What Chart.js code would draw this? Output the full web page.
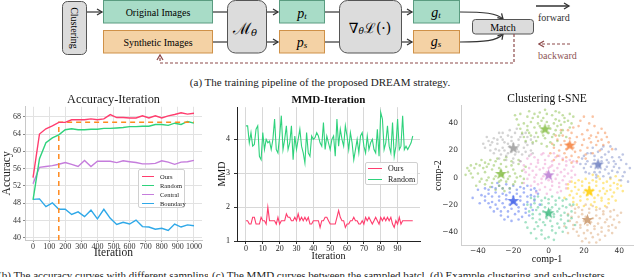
<!DOCTYPE html>
<html>
<head>
<meta charset="utf-8">
<script src="https://cdn.jsdelivr.net/npm/chart.js@4.4.0/dist/chart.umd.min.js"></script>
<style>
html, body { margin: 0; padding: 0; background: #fff; width: 640px; height: 277px; overflow: hidden; }
body { position: relative; font-family: "Liberation Serif", serif; color: #222; }
.abs { position: absolute; }
.cap { font-size: 11px; line-height: 14px; white-space: nowrap; overflow: hidden; }
.legend { position: absolute; background: rgba(255,255,255,0.9); border: 1px solid #d0d0d0; border-radius: 2px; box-sizing: border-box; }
.legend .row { position: absolute; left: 0; height: 9px; width: 100%; }
.legend .sw { position: absolute; top: 4px; height: 0; border-top: 1.5px solid; }
.legend .tx { position: absolute; top: 0; line-height: 9px; white-space: nowrap; }
</style>
</head>
<body>

<svg class="abs" style="left:0;top:0" width="640" height="72" font-family="Liberation Serif, serif">
  <defs>
    <marker id="ah" markerWidth="8" markerHeight="8" refX="6.5" refY="4" orient="auto" markerUnits="userSpaceOnUse">
      <path d="M1.5,1 L6.5,4 L1.5,7" fill="none" stroke="#333" stroke-width="1.3"/>
    </marker>
    <marker id="ahr" markerWidth="8" markerHeight="8" refX="6.5" refY="4" orient="auto" markerUnits="userSpaceOnUse">
      <path d="M1.5,1 L6.5,4 L1.5,7" fill="none" stroke="#8e4b4b" stroke-width="1.3"/>
    </marker>
  </defs>
  <rect x="62.5" y="1.5" width="24" height="53" rx="5" fill="#dcdcdc" stroke="#555"/>
  <text transform="translate(74.5,28) rotate(90)" text-anchor="middle" dominant-baseline="central" font-size="10">Clustering</text>
  <line x1="87" y1="12" x2="102" y2="12" stroke="#333" stroke-width="1.2" marker-end="url(#ah)"/>

  <rect x="103.5" y="0.5" width="109" height="22.5" fill="#a8dcc7" stroke="#5a9c80"/>
  <text x="158" y="12" text-anchor="middle" dominant-baseline="central" font-size="10">Original Images</text>
  <rect x="103.5" y="30.5" width="109" height="22.5" fill="#f4d2a5" stroke="#cf9148"/>
  <text x="158" y="42" text-anchor="middle" dominant-baseline="central" font-size="10">Synthetic Images</text>

  <line x1="213" y1="12" x2="227" y2="12" stroke="#333" stroke-width="1.2"/>
  <line x1="213" y1="42" x2="227" y2="42" stroke="#333" stroke-width="1.2"/>
  <rect x="227.5" y="0.5" width="39" height="52.5" rx="8" fill="#dcdcdc" stroke="#555"/>
  <text x="245" y="28" text-anchor="middle" dominant-baseline="central" font-size="16" font-family="DejaVu Serif">ℳ<tspan font-size="10" dy="4" font-style="italic">θ</tspan></text>

  <line x1="267" y1="12" x2="278" y2="12" stroke="#333" stroke-width="1.2" marker-end="url(#ah)"/>
  <line x1="267" y1="42" x2="278" y2="42" stroke="#333" stroke-width="1.2" marker-end="url(#ah)"/>
  <rect x="279.5" y="0.5" width="45" height="22.5" fill="#a8dcc7" stroke="#5a9c80"/>
  <text x="302" y="13" text-anchor="middle" dominant-baseline="central" font-size="14" font-style="italic">p<tspan font-size="9" dy="3">t</tspan></text>
  <rect x="279.5" y="30.5" width="45" height="22.5" fill="#f4d2a5" stroke="#cf9148"/>
  <text x="302" y="42" text-anchor="middle" dominant-baseline="central" font-size="14" font-style="italic">p<tspan font-size="9" dy="3">s</tspan></text>

  <line x1="325" y1="12" x2="339" y2="12" stroke="#333" stroke-width="1.2"/>
  <line x1="325" y1="42" x2="339" y2="42" stroke="#333" stroke-width="1.2"/>
  <rect x="339.5" y="0.5" width="62" height="52.5" rx="8" fill="#dcdcdc" stroke="#555"/>
  <text x="370" y="28" text-anchor="middle" dominant-baseline="central" font-size="14" font-family="DejaVu Serif">∇<tspan font-size="9" dy="3" font-style="italic">θ</tspan><tspan dy="-3">ℒ(·)</tspan></text>

  <line x1="402" y1="12" x2="412" y2="12" stroke="#333" stroke-width="1.2" marker-end="url(#ah)"/>
  <line x1="402" y1="42" x2="412" y2="42" stroke="#333" stroke-width="1.2" marker-end="url(#ah)"/>
  <rect x="413.5" y="0.5" width="46" height="22.5" fill="#a8dcc7" stroke="#5a9c80"/>
  <text x="436" y="12" text-anchor="middle" dominant-baseline="central" font-size="14" font-style="italic">g<tspan font-size="9" dy="3">t</tspan></text>
  <rect x="413.5" y="30.5" width="46" height="22.5" fill="#f4d2a5" stroke="#cf9148"/>
  <text x="436" y="41" text-anchor="middle" dominant-baseline="central" font-size="14" font-style="italic">g<tspan font-size="9" dy="3">s</tspan></text>

  <path d="M460,12 C484,12 497,13 503,19" fill="none" stroke="#333" stroke-width="1.2" marker-end="url(#ah)"/>
  <path d="M460,42 C484,42 497,41 503,34" fill="none" stroke="#333" stroke-width="1.2" marker-end="url(#ah)"/>
  <rect x="472.5" y="19.5" width="61" height="14.5" rx="3" fill="#dcdcdc" stroke="#555"/>
  <text x="503" y="27" text-anchor="middle" dominant-baseline="central" font-size="10">Match</text>

  <line x1="536" y1="6" x2="569" y2="6" stroke="#333" stroke-width="1.3" marker-end="url(#ah)"/>
  <text x="538" y="17" dominant-baseline="central" font-size="10" fill="#333">forward</text>
  <line x1="570" y1="44" x2="539" y2="44" stroke="#8e4b4b" stroke-width="1.2" stroke-dasharray="3,2" marker-end="url(#ahr)"/>
  <text x="538" y="55" dominant-baseline="central" font-size="10" fill="#8e5555">backward</text>

  <path d="M514,34 V63 H160 V55" fill="none" stroke="#8e4b4b" stroke-width="1.2" stroke-dasharray="3,2" marker-end="url(#ahr)"/>
</svg>

<div class="abs cap" style="left:0;top:75px;width:640px;text-align:center">(a) The training pipeline of the proposed DREAM strategy.</div>

<canvas id="acc" class="abs" width="206" height="172" style="left:0;top:88px"></canvas>
<canvas id="mmd" class="abs" width="212" height="174" style="left:212px;top:88px"></canvas>
<canvas id="tsne" class="abs" width="215" height="177" style="left:425px;top:88px"></canvas>

<div class="legend" style="left:138px;top:169px;width:47px;height:39px;font-size:6.5px">
  <div class="row" style="top:2px"><div class="sw" style="left:3px;width:12px;border-color:#ff3d6e"></div><div class="tx" style="left:21px">Ours</div></div>
  <div class="row" style="top:11px"><div class="sw" style="left:3px;width:12px;border-color:#2fd27c"></div><div class="tx" style="left:21px">Random</div></div>
  <div class="row" style="top:20px"><div class="sw" style="left:3px;width:12px;border-color:#c57ddc"></div><div class="tx" style="left:21px">Central</div></div>
  <div class="row" style="top:29px"><div class="sw" style="left:3px;width:12px;border-color:#2ea8e8"></div><div class="tx" style="left:21px">Boundary</div></div>
</div>

<div class="legend" style="left:365px;top:162px;width:53px;height:23px;font-size:8px">
  <div class="row" style="top:1px"><div class="sw" style="left:2px;width:14px;border-color:#ff3d6e"></div><div class="tx" style="left:22px">Ours</div></div>
  <div class="row" style="top:12px"><div class="sw" style="left:2px;width:14px;border-color:#2fd27c"></div><div class="tx" style="left:22px">Random</div></div>
</div>

<div class="abs cap" style="left:-2px;top:268px;width:210px">(b) The accuracy curves with different sampling strategies.</div>
<div class="abs cap" style="left:212px;top:268px;width:212px">(c) The MMD curves between the sampled batch</div>
<div class="abs cap" style="left:430px;top:268px;width:210px">(d) Example clustering and sub-clusters</div>

<script>
// ---- accuracy vs iteration ----
var accIters = [0, 40, 80, 120, 160, 200, 240, 280, 320, 360, 400, 440, 480, 520, 560, 600, 640, 680, 720, 760, 800, 840, 880, 920, 960, 1000];
var accOurs = [53.9, 64.0, 65.2, 65.9, 66.7, 66.7, 67.3, 67.3, 67.3, 67.5, 67.3, 67.5, 68.5, 67.8, 67.8, 67.7, 67.7, 68.2, 67.7, 68.2, 67.7, 68.2, 68.5, 68.9, 68.6, 68.8];
var accRandom = [48.8, 58.3, 62.0, 63.1, 63.8, 65.0, 65.2, 65.0, 65.0, 65.1, 65.1, 65.3, 65.3, 65.4, 65.5, 65.7, 65.7, 65.8, 65.8, 66.2, 66.2, 66.0, 66.5, 66.2, 66.9, 66.5];
var accCentral = [52.5, 56.3, 56.5, 56.7, 57.0, 57.4, 57.0, 56.5, 57.9, 56.5, 57.7, 57.7, 57.7, 57.4, 57.8, 57.6, 57.4, 57.1, 57.1, 57.2, 57.8, 57.5, 57.0, 57.5, 57.6, 57.9];
var accBoundary = [48.9, 49.0, 47.2, 48.1, 46.6, 46.6, 45.4, 46.0, 44.9, 46.4, 44.4, 46.6, 44.5, 43.1, 43.6, 43.2, 44.1, 42.6, 42.5, 42.0, 42.2, 41.7, 43.2, 42.5, 43.0, 42.8];
var refIters = [160, 160, 1000];
var refAcc = [39.5, 66.7, 66.7];
var accXTicks = [0, 100, 200, 300, 400, 500, 600, 700, 800, 900, 1000];
var accYTicks = [40, 44, 48, 52, 56, 60, 64, 68];

// ---- MMD vs iteration (one value per iteration, 0..99) ----
var mmdOurs = [1.6, 1.6, 1.5, 1.5, 1.7, 1.7, 1.5, 1.5, 1.5, 1.7, 1.6, 1.6, 1.5, 2.0, 1.6, 1.6, 1.6, 1.6, 1.5, 1.7,
  1.5, 1.6, 1.6, 1.6, 1.8, 1.7, 1.7, 1.6, 1.6, 1.7, 1.6, 1.8, 1.6, 1.7, 1.6, 1.7, 1.6, 1.7, 1.5, 1.5,
  1.6, 1.6, 1.6, 1.6, 1.4, 1.6, 1.6, 1.7, 1.7, 1.6, 1.5, 1.5, 1.5, 1.5, 1.7, 1.9, 1.7, 1.6, 1.6, 1.4,
  1.5, 1.5, 1.6, 1.6, 1.7, 1.6, 1.6, 1.5, 1.5, 1.6, 1.5, 1.7, 1.6, 1.7, 1.6, 1.5, 1.6, 1.7, 1.6, 1.5,
  1.7, 1.6, 1.7, 1.6, 1.7, 1.6, 1.7, 1.5, 1.4, 1.6, 1.5, 1.7, 1.5, 1.6, 1.6, 1.6, 1.6, 1.6, 1.6, 1.6];
var mmdRandom = [4.4, 4.4, 3.9, 4.2, 3.8, 3.85, 4.3, 4.4, 3.5, 3.4, 4.2, 3.7, 4.0, 3.9, 3.95, 3.7, 4.0, 4.6, 3.7, 3.6,
  4.1, 4.7, 3.7, 4.0, 4.4, 3.7, 3.9, 4.4, 3.4, 4.1, 3.7, 4.0, 4.3, 3.8, 3.6, 3.3, 4.2, 3.6, 3.5, 4.1,
  4.0, 4.05, 4.2, 4.1, 3.9, 3.8, 4.5, 3.7, 4.1, 3.9, 3.7, 4.0, 4.1, 3.5, 4.6, 3.8, 4.3, 4.0, 3.8, 4.4,
  4.1, 3.7, 4.2, 3.9, 3.4, 3.7, 4.0, 3.6, 4.1, 4.2, 3.8, 3.6, 4.1, 3.7, 3.9, 4.0, 3.7, 3.6, 4.3, 3.5,
  4.8, 4.6, 3.7, 3.9, 4.4, 3.8, 3.6, 4.5, 3.5, 3.8, 4.6, 3.7, 3.8, 4.7, 3.7, 3.8, 3.7, 3.8, 3.9, 4.1];
var mmdXTicks = [0, 10, 20, 30, 40, 50, 60, 70, 80, 90];
var mmdYTicks = [1, 2, 3, 4];

// ---- t-SNE clusters ----
var ptsTopGreen = [[-12,45],[-8,47],[-3,44],[2,46],[6,48],[9,44],[-14,40],[-10,41],[-6,40],[-1,41],[3,40],[7,39],[11,42],[-16,36],[-12,35],[-8,37],[-4,34],[0,33],[4,35],[8,35],[12,37],[-14,30],[-10,31],[-6,30],[-2,29],[2,30],[6,31],[-9,26],[-4,25],[1,26],[5,27],[-18,43],[14,45],[-5,48],[0,38],[-7,33],[10,30],[-13,27],[4,43],[-1,47],
  [-16,47],[-11,49],[-6,45],[-2,50],[4,49],[8,46],[12,47],[-17,39],[-12,38],[-9,44],[-5,38],[1,36],[5,38],[9,41],[13,40],[-15,33],[-11,33],[-3,31],[3,32],[7,33],[-7,27],[-1,23],[3,24],[-19,46],[-4,42],[6,42]];
var ptsOrange = [[5,28],[8,31],[12,29],[16,30],[20,28],[24,26],[3,22],[7,24],[10,21],[14,22],[18,20],[22,22],[27,24],[5,16],[9,18],[13,16],[17,15],[21,17],[25,18],[30,28],[28,33],[22,35],[17,38],[20,45],[26,38],[32,33],[11,35],[15,26],[19,24],[1,18],[8,13],[13,11],[24,31],[34,26],[29,20],
  [2,25],[6,20],[11,25],[15,19],[19,32],[23,29],[27,30],[31,24],[4,31],[9,27],[13,33],[18,42],[23,40],[28,27],[33,30],[36,21],[10,15],[16,12],[3,13],[21,14],[25,45],[14,37],[7,35],[30,36]];
var ptsGray = [[-34,27],[-31,29],[-27,30],[-23,31],[-19,33],[-15,32],[-12,30],[-33,24],[-29,25],[-25,26],[-21,27],[-17,28],[-13,26],[-9,25],[-30,21],[-26,22],[-22,23],[-18,21],[-14,22],[-10,20],[-27,17],[-23,18],[-19,17],[-15,17],[-11,16],[-24,13],[-20,14],[-16,12],[-36,22],[-28,33],[-8,30],[-21,30],[-17,24],[-25,20],
  [-35,30],[-32,26],[-29,28],[-26,28],[-23,25],[-20,25],[-16,30],[-13,33],[-10,28],[-31,18],[-28,20],[-24,16],[-21,19],[-17,19],[-13,19],[-9,18],[-22,35],[-18,36],[-26,33],[-33,20],[-37,25],[-12,24],[-20,11],[-28,14]];
var ptsIndigo = [[20,16],[24,18],[28,19],[32,17],[36,15],[22,12],[26,13],[30,12],[34,11],[38,10],[41,13],[20,7],[24,8],[28,7],[32,6],[36,5],[40,7],[23,3],[27,2],[31,1],[35,0],[43,4],[45,-3],[38,21],[35,23],[18,10],[30,15],[26,4],[33,8],[42,17],
  [22,18],[26,16],[30,21],[34,19],[37,12],[40,15],[44,10],[21,10],[25,10],[29,9],[33,13],[39,4],[42,1],[21,4],[29,4],[34,3],[37,8],[25,22],[31,23],[19,14],[46,7],[41,-2],[27,0]];
var ptsLeftGreen = [[-45,5],[-42,7],[-39,9],[-36,11],[-33,13],[-29,14],[-25,13],[-21,12],[-17,10],[-40,3],[-36,4],[-32,6],[-28,7],[-24,8],[-20,6],[-15,5],[-43,0],[-38,-1],[-34,0],[-30,1],[-26,2],[-22,1],[-18,0],[-14,-1],[-36,-5],[-32,-4],[-28,-6],[-24,-3],[-20,-5],[-30,-9],[-25,-10],[-47,2],[-44,9],[-13,8],[-22,-8],[-35,8],[-27,10],[-38,13],
  [-44,3],[-41,10],[-37,7],[-34,10],[-31,9],[-27,5],[-23,4],[-19,3],[-16,1],[-39,-3],[-35,-2],[-31,-1],[-27,-2],[-23,-1],[-19,-3],[-33,-7],[-28,-3],[-26,-8],[-21,9],[-17,13],[-30,12],[-46,7],[-41,-6],[-15,-4],[-24,15]];
var ptsPink = [[-12,14],[-8,15],[-4,17],[0,16],[4,15],[8,14],[12,13],[-14,9],[-10,10],[-6,11],[-2,10],[2,9],[6,10],[10,9],[14,8],[-13,4],[-9,5],[-5,6],[-1,4],[3,5],[7,4],[11,3],[15,2],[-12,-1],[-8,0],[-4,-1],[0,-2],[4,-1],[8,-2],[12,-3],[-10,-6],[-6,-5],[-2,-7],[2,-6],[6,-7],[10,-8],[-7,-11],[-1,-12],[5,-11],[-16,12],[16,11],[0,7],
  [-10,17],[-6,13],[-2,13],[2,12],[6,16],[10,12],[14,12],[-14,6],[-11,7],[-7,8],[-3,7],[1,8],[5,7],[9,6],[13,5],[-11,2],[-7,2],[-3,1],[1,1],[5,2],[9,1],[13,0],[-14,-4],[-8,-3],[-4,-4],[2,-3],[6,-4],[10,-5],[-5,-9],[1,-9],[7,-10],[-3,18],[3,18]];
var ptsYellow = [[13,-3],[17,-2],[21,-1],[25,-2],[29,-1],[33,-3],[37,-4],[40,-2],[11,-8],[15,-7],[19,-6],[23,-7],[27,-6],[31,-8],[35,-9],[39,-8],[12,-13],[16,-12],[20,-11],[24,-12],[28,-13],[32,-12],[36,-14],[14,-18],[18,-17],[22,-16],[26,-18],[30,-17],[34,-19],[20,-21],[27,-22],[42,-10],[38,1],[9,-15],[25,2],
  [15,-4],[19,-3],[23,-4],[27,-3],[31,-4],[35,-6],[39,-5],[13,-10],[17,-9],[21,-9],[25,-9],[29,-10],[33,-10],[37,-11],[41,-6],[14,-15],[18,-14],[22,-13],[26,-15],[30,-15],[34,-16],[16,-20],[24,-20],[32,-21],[38,-17],[11,-5],[28,1],[35,-1]];
var ptsBlue = [[-36,-8],[-32,-7],[-28,-6],[-24,-5],[-20,-6],[-16,-7],[-12,-6],[-8,-8],[-38,-13],[-34,-12],[-30,-11],[-26,-12],[-22,-11],[-18,-12],[-14,-11],[-10,-13],[-6,-12],[-36,-17],[-32,-18],[-28,-17],[-24,-16],[-20,-18],[-16,-17],[-12,-18],[-8,-17],[-33,-22],[-29,-23],[-25,-22],[-21,-23],[-17,-22],[-13,-23],[-9,-24],[-27,-28],[-23,-29],[-19,-27],[-15,-29],[-43,-15],[-40,-9],[-5,-20],[-21,-32],[-11,-28],
  [-34,-9],[-30,-8],[-26,-8],[-22,-8],[-18,-9],[-14,-8],[-10,-9],[-36,-14],[-32,-14],[-28,-14],[-24,-13],[-20,-14],[-16,-14],[-12,-14],[-8,-14],[-34,-19],[-30,-20],[-26,-19],[-22,-20],[-18,-20],[-14,-20],[-10,-20],[-31,-25],[-27,-25],[-23,-25],[-17,-25],[-13,-26],[-25,-31],[-17,-31],[-39,-19],[-7,-10],[-29,-4]];
var ptsTeal = [[-10,-15],[-6,-14],[-2,-15],[2,-14],[6,-15],[10,-16],[-12,-20],[-8,-19],[-4,-20],[0,-19],[4,-20],[8,-21],[12,-20],[-11,-25],[-7,-24],[-3,-25],[1,-24],[5,-25],[9,-26],[13,-25],[-9,-30],[-5,-31],[-1,-30],[3,-29],[7,-31],[11,-32],[-6,-36],[-2,-35],[2,-36],[6,-37],[10,-37],[-10,-41],[-4,-42],[0,-44],[4,-41],[-7,-45],[15,-35],[-13,-33],
  [-8,-16],[-4,-17],[0,-16],[4,-17],[8,-17],[-10,-22],[-6,-22],[-2,-22],[2,-22],[6,-23],[10,-22],[-9,-27],[-5,-27],[-1,-27],[3,-27],[7,-28],[11,-28],[-7,-33],[-3,-33],[1,-32],[5,-34],[9,-34],[13,-30],[-8,-38],[-4,-39],[2,-39],[8,-40],[-2,-45],[3,-46],[-12,-37],[14,-20]];
var ptsTan = [[13,-21],[17,-22],[21,-20],[25,-21],[29,-23],[33,-22],[37,-24],[11,-27],[15,-26],[19,-27],[23,-26],[27,-28],[31,-27],[35,-29],[39,-28],[12,-32],[16,-33],[20,-32],[24,-33],[28,-34],[32,-33],[36,-35],[14,-38],[18,-37],[22,-39],[26,-38],[30,-40],[34,-39],[17,-43],[21,-45],[25,-44],[29,-46],[40,-33],[9,-36],[23,-48],
  [15,-23],[19,-24],[23,-23],[27,-24],[31,-25],[35,-25],[13,-29],[17,-29],[21,-29],[25,-30],[29,-30],[33,-31],[37,-31],[14,-35],[18,-35],[22,-35],[26,-36],[30,-37],[34,-36],[38,-37],[16,-40],[20,-41],[24,-41],[28,-42],[32,-43],[19,-47],[27,-48],[11,-41],[36,-41],[41,-26]];
var clusterPoints = [ptsTopGreen, ptsOrange, ptsGray, ptsIndigo, ptsLeftGreen, ptsPink, ptsYellow, ptsBlue, ptsTeal, ptsTan];
var clusterColors = ['#8cc04c', '#f5894a', '#a8a8a8', '#7d8ec9', '#8cc04c', '#ee98cf', '#ffd21a', '#4d6df0', '#4cc58d', '#dba878'];
var starColors = ['#86bd45', '#f57f3a', '#9a9a9a', '#6d7fc0', '#86bd45', '#b87ad2', '#ffcc00', '#3f5fe8', '#3fb880', '#c9976a'];
var centerX = [-2, 12, -20, 28, -27, 0, 23, -20, 0, 22];
var centerY = [36, 24, 22, 10, 3, 2, -10, -17, -26, -31];
var tsneTicks = [-40, -20, 0, 20, 40];

var serif = 'Liberation Serif';

function toXY(xs, ys) {
  return xs.map(function (x, i) { return { x: x, y: ys[i] }; });
}
function fixTicks(list) {
  return function (scale) { scale.ticks = list.map(function (v) { return { value: v }; }); };
}
function plain(v) { return String(v); }
function minus(v) { return String(v).replace('-', '\u2212'); }
function hexA(hex, a) {
  var n = parseInt(hex.slice(1), 16);
  return 'rgba(' + (n >> 16) + ',' + ((n >> 8) & 255) + ',' + (n & 255) + ',' + a + ')';
}
function starImg(color) {
  var c = document.createElement('canvas');
  c.width = 13; c.height = 13;
  var g = c.getContext('2d');
  g.beginPath();
  for (var k = 0; k < 10; k++) {
    var r = k % 2 ? 2.6 : 6.2;
    var a = -Math.PI / 2 + k * Math.PI / 5;
    g.lineTo(6.5 + r * Math.cos(a), 7 + r * Math.sin(a));
  }
  g.closePath();
  g.fillStyle = hexA(color, 0.85);
  g.fill();
  return c;
}

Chart.defaults.font.family = serif;
Chart.defaults.color = '#222';

function line(label, data, color, width) {
  return { label: label, data: data, borderColor: color, borderWidth: width, pointRadius: 0, tension: 0, fill: false };
}

// accuracy chart
new Chart(document.getElementById('acc'), {
  type: 'line',
  data: {
    datasets: [
      line('Ours', toXY(accIters, accOurs), '#ff3d6e', 1.4),
      Object.assign(line('ref', toXY(refIters, refAcc), '#ff8a1f', 1.5), { borderDash: [5, 4] }),
      line('Random', toXY(accIters, accRandom), '#2fd27c', 1.4),
      line('Central', toXY(accIters, accCentral), '#c57ddc', 1.4),
      line('Boundary', toXY(accIters, accBoundary), '#2ea8e8', 1.4)
    ]
  },
  options: {
    responsive: false, animation: false, devicePixelRatio: 1,
    layout: { padding: { left: 0, right: 4, top: 0, bottom: 0 } },
    plugins: {
      legend: { display: false }, tooltip: { enabled: false },
      title: { display: true, fullSize: false, text: 'Accuracy-Iteration', font: { size: 12.3, weight: 'normal' }, color: '#1a1a1a', padding: { top: 4, bottom: 0 } }
    },
    scales: {
      x: {
        type: 'linear', min: -50, max: 1050,
        afterBuildTicks: fixTicks(accXTicks),
        afterFit: function (s) { s.height = 20; },
        ticks: { autoSkip: false, maxRotation: 0, font: { size: 8 }, color: '#333', padding: 0, callback: plain },
        grid: { color: '#e2e2e2', tickLength: 2, tickColor: '#888' },
        border: { color: '#c8c8c8' },
        title: { display: true, text: 'Iteration', font: { size: 11.5 }, padding: 0, color: '#222' }
      },
      y: {
        min: 39.5, max: 70.3,
        afterBuildTicks: fixTicks(accYTicks),
        afterFit: function (s) { s.width = 25; },
        ticks: { font: { size: 8 }, color: '#333', padding: 2 },
        grid: { color: '#e2e2e2', tickLength: 2, tickColor: '#888' },
        border: { color: '#c8c8c8' },
        title: { display: true, text: 'Accuracy', font: { size: 11.5 }, padding: 0, color: '#222' }
      }
    }
  }
});

// MMD chart
var iterIdx = mmdOurs.map(function (v, i) { return i; });
new Chart(document.getElementById('mmd'), {
  type: 'line',
  data: {
    datasets: [
      line('Ours', toXY(iterIdx, mmdOurs), '#ff3d6e', 1.1),
      line('Random', toXY(iterIdx, mmdRandom), '#2fd27c', 1.1)
    ]
  },
  options: {
    responsive: false, animation: false, devicePixelRatio: 1,
    layout: { padding: { left: 0, right: 4, top: 0, bottom: 0 } },
    plugins: {
      legend: { display: false }, tooltip: { enabled: false },
      title: { display: true, fullSize: false, text: 'MMD-Iteration', font: { size: 11, weight: 'bold' }, color: '#111', padding: { top: 6, bottom: 0 } }
    },
    scales: {
      x: {
        type: 'linear', min: -5.3, max: 103.3,
        afterBuildTicks: fixTicks(mmdXTicks),
        afterFit: function (s) { s.height = 21; },
        ticks: { autoSkip: false, maxRotation: 0, font: { size: 8 }, color: '#222', padding: 0, callback: plain },
        grid: { color: '#d8d8d8', borderDash: [1, 2], tickLength: 3, tickColor: '#333', tickBorderDash: [] },
        border: { color: '#222' },
        title: { display: true, text: 'Iteration', font: { size: 10 }, padding: 0, color: '#111' }
      },
      y: {
        min: 1, max: 4.95,
        afterBuildTicks: fixTicks(mmdYTicks),
        afterFit: function (s) { s.width = 25; },
        ticks: { font: { size: 8 }, color: '#222', padding: 4, callback: plain },
        grid: { color: '#d8d8d8', borderDash: [1, 2], tickLength: 3, tickColor: '#333', tickBorderDash: [] },
        border: { color: '#222' },
        title: { display: true, text: 'MMD', font: { size: 10 }, padding: { top: 4, bottom: 0 }, color: '#111' }
      }
    }
  }
});

// t-SNE scatter
var tsneSets = [{
  label: 'centers',
  data: toXY(centerX, centerY),
  pointStyle: starColors.map(starImg),
  pointRadius: 6
}];
clusterPoints.forEach(function (pts, i) {
  tsneSets.push({
    label: 'cluster ' + i,
    data: pts.map(function (p) { return { x: p[0], y: p[1] }; }),
    backgroundColor: hexA(clusterColors[i], 0.5),
    borderWidth: 0,
    pointRadius: 1.3
  });
});
new Chart(document.getElementById('tsne'), {
  type: 'scatter',
  data: { datasets: tsneSets },
  options: {
    responsive: false, animation: false, devicePixelRatio: 1,
    layout: { padding: { left: 0, right: 4, top: 0, bottom: 0 } },
    plugins: {
      legend: { display: false }, tooltip: { enabled: false },
      title: { display: true, fullSize: false, text: 'Clustering t-SNE', font: { size: 11.5, weight: 'normal' }, color: '#111', padding: { top: 4, bottom: 0 } }
    },
    scales: {
      x: {
        min: -49.6, max: 47.8,
        afterBuildTicks: fixTicks(tsneTicks),
        afterFit: function (s) { s.height = 20; },
        ticks: { autoSkip: false, maxRotation: 0, font: { family: 'DejaVu Sans', size: 7.5 }, color: '#333', padding: 2, callback: minus },
        grid: { display: false, drawTicks: false, tickLength: 0 },
        border: { color: '#cfcfcf' },
        title: { display: true, text: 'comp-1', font: { size: 10 }, padding: 0, color: '#111' }
      },
      y: {
        min: -49.8, max: 53,
        afterBuildTicks: fixTicks(tsneTicks),
        afterFit: function (s) { s.width = 36; },
        ticks: { font: { family: 'DejaVu Sans', size: 7.5 }, color: '#333', padding: 3, callback: minus },
        grid: { display: false, drawTicks: false, tickLength: 0 },
        border: { color: '#cfcfcf' },
        title: { display: true, text: 'comp-2', font: { size: 10 }, padding: { top: 7, bottom: 0 }, color: '#111' }
      }
    }
  }
});
</script>
</body>
</html>
